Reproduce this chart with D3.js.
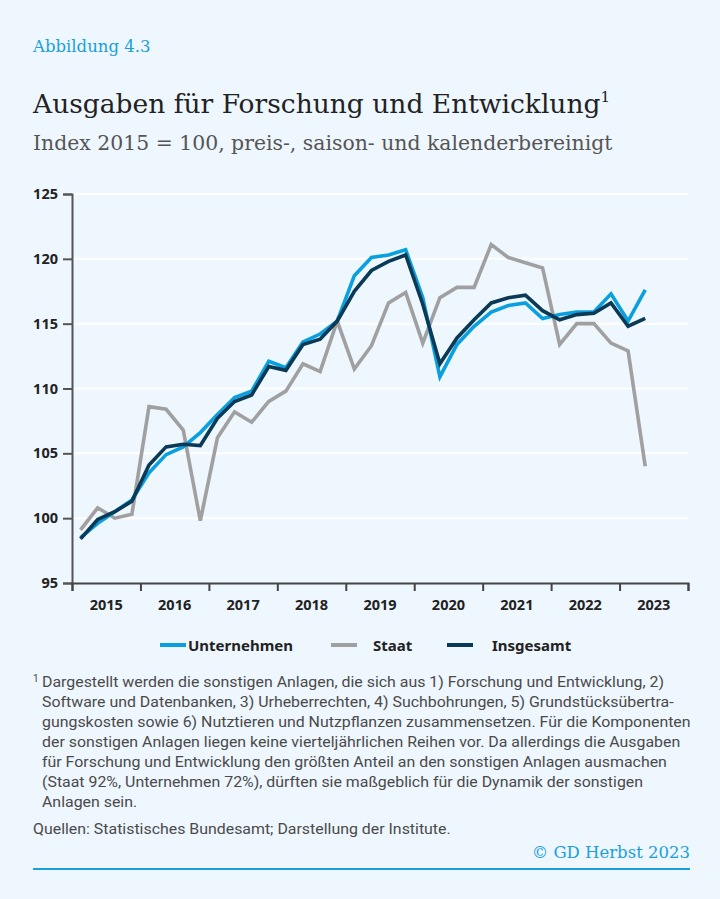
<!DOCTYPE html>
<html lang="de">
<head>
<meta charset="utf-8">
<script src="https://cdn.jsdelivr.net/npm/d3@7"></script>
<style>
  html, body { margin: 0; padding: 0; background: #eef6fe; }
  svg { display: block; }
</style>
</head>
<body>
<svg id="chart" width="720" height="899"></svg>
<script>
// Quarterly index values, 2015 Q1 – 2023 Q2 (2015 = 100)
const years = [2015, 2016, 2017, 2018, 2019, 2020, 2021, 2022, 2023];
const yTicks = [95, 100, 105, 110, 115, 120, 125];

const unternehmen = [
  98.5, 99.6, 100.5, 101.4,
  103.5, 104.9, 105.5, 106.6,
  108.0, 109.3, 109.8, 112.1,
  111.6, 113.6, 114.2, 115.2,
  118.7, 120.1, 120.3, 120.7,
  117.0, 110.9, 113.4, 114.8,
  115.9, 116.4, 116.6, 115.4,
  115.7, 115.9, 115.9, 117.3,
  115.2, 117.6
];
const staat = [
  99.1, 100.8, 100.0, 100.3,
  108.6, 108.4, 106.8, 99.8,
  106.2, 108.2, 107.4, 109.0,
  109.8, 111.9, 111.3, 115.2,
  111.5, 113.3, 116.6, 117.4,
  113.5, 117.0, 117.8, 117.8,
  121.1, 120.1, 119.7, 119.3,
  113.4, 115.0, 115.0, 113.5,
  112.9, 104.0
];
const insgesamt = [
  98.4, 99.9, 100.5, 101.3,
  104.1, 105.5, 105.7, 105.6,
  107.7, 109.0, 109.5, 111.7,
  111.4, 113.4, 113.8, 115.2,
  117.5, 119.1, 119.8, 120.3,
  116.5, 111.9, 113.9, 115.3,
  116.6, 117.0, 117.2, 116.0,
  115.3, 115.7, 115.8, 116.6,
  114.8, 115.4
];

const seriesNames = ["Unternehmen", "Staat", "Insgesamt"];
const seriesColors = ["#0aa0e0", "#a0a0a0", "#0a3a55"];

const footnoteLines = [
  "Dargestellt werden die sonstigen Anlagen, die sich aus 1) Forschung und Entwicklung, 2)",
  "Software und Datenbanken, 3) Urheberrechten, 4) Suchbohrungen, 5) Grundstücksübertra-",
  "gungskosten sowie 6) Nutztieren und Nutzpflanzen zusammensetzen. Für die Komponenten",
  "der sonstigen Anlagen liegen keine vierteljährlichen Reihen vor. Da allerdings die Ausgaben",
  "für Forschung und Entwicklung den größten Anteil an den sonstigen Anlagen ausmachen",
  "(Staat 92%, Unternehmen 72%), dürften sie maßgeblich für die Dynamik der sonstigen",
  "Anlagen sein."
];

const svg = d3.select("#chart");
const serif = "'DejaVu Serif', 'Liberation Serif', serif";
const sans = "'Noto Sans', 'Open Sans', sans-serif";
const narrow = "'Liberation Sans Narrow', 'Roboto', sans-serif";

svg.append("rect").attr("width", 720).attr("height", 899).attr("fill", "#eef6fe");

// Header
svg.append("text").attr("x", 33).attr("y", 52)
  .attr("font-family", serif).attr("font-size", 16.5).attr("font-weight", 300)
  .attr("fill", "#1a9fdc").text("Abbildung 4.3");

const title = svg.append("text").attr("x", 33).attr("y", 113)
  .attr("font-family", serif).attr("font-size", 26.5).attr("fill", "#222");
title.append("tspan").text("Ausgaben für Forschung und Entwicklung");
title.append("tspan").attr("font-size", 15).attr("dy", -11).text("1");

svg.append("text").attr("x", 33).attr("y", 150)
  .attr("font-family", serif).attr("font-size", 20.4).attr("font-weight", 300)
  .attr("fill", "#555").text("Index 2015 = 100, preis-, saison- und kalenderbereinigt");

// Scales: x in quarters since 2015 Q1
const x = d3.scaleLinear().domain([0, years.length * 4]).range([72, 688]);
const y = d3.scaleLinear().domain([95, 125]).range([583, 194]);

// Gridlines
svg.append("g").selectAll("line").data(yTicks.slice(1)).join("line")
  .attr("x1", x(0)).attr("x2", x(years.length * 4))
  .attr("y1", d => y(d)).attr("y2", d => y(d))
  .attr("stroke", "#ffffff").attr("stroke-width", 2);

// Y axis
const yAxis = svg.append("g").attr("transform", `translate(${x(0)},0)`)
  .call(d3.axisLeft(y).tickValues(yTicks).tickSize(9).tickPadding(5).tickFormat(d3.format("d")));
yAxis.select(".domain").attr("stroke", "#555").attr("stroke-width", 2);
yAxis.selectAll(".tick line").attr("stroke", "#555").attr("stroke-width", 2);
yAxis.selectAll(".tick text").attr("font-family", sans).attr("font-size", 14.5)
  .attr("font-weight", 700).attr("fill", "#222");

// X axis: ticks at year boundaries, labels centred on each year
const xAxis = svg.append("g").attr("transform", `translate(0,${y(95)})`)
  .call(d3.axisBottom(x).tickValues(d3.range(0, years.length * 4 + 1, 4)).tickSize(8).tickFormat(""));
xAxis.select(".domain").attr("stroke", "#444").attr("stroke-width", 2);
xAxis.selectAll(".tick line").attr("stroke", "#444").attr("stroke-width", 2);
svg.append("g").selectAll("text").data(years).join("text")
  .attr("x", (d, i) => x(i * 4 + 2)).attr("y", 610)
  .attr("text-anchor", "middle").attr("font-family", sans).attr("font-size", 14.5)
  .attr("font-weight", 700).attr("fill", "#222").text(d => d);

// Lines
const line = d3.line().x((d, i) => x(i + 0.5)).y(d => y(d));
const drawOrder = [[staat, 1], [unternehmen, 0], [insgesamt, 2]];
svg.append("g").selectAll("path").data(drawOrder).join("path")
  .attr("d", d => line(d[0]))
  .attr("fill", "none")
  .attr("stroke", d => seriesColors[d[1]])
  .attr("stroke-width", 3.6)
  .attr("stroke-linejoin", "miter");

// Legend
const legendX = [160, 331, 447];
const lg = svg.append("g").selectAll("g").data(seriesNames).join("g")
  .attr("transform", (d, i) => `translate(${legendX[i]},645)`);
lg.append("line").attr("x1", 0).attr("x2", 26).attr("y1", 0).attr("y2", 0)
  .attr("stroke", (d, i) => seriesColors[i]).attr("stroke-width", 4);
lg.append("text").attr("x", (d, i) => [28, 42, 45][i]).attr("y", 5.5)
  .attr("font-family", sans).attr("font-size", 15).attr("font-weight", 700)
  .attr("fill", "#222").text(d => d);

// Footnote, compressed horizontally to a narrow set
const fn = svg.append("g").attr("fill", "#4a4a4a").attr("font-family", narrow).attr("font-size", 15.5);
fn.append("text").attr("x", 33).attr("y", 682).attr("font-size", 10).text("1");
const fnText = fn.append("g");
fnText.selectAll("text").data(footnoteLines).join("text")
  .attr("x", 0).attr("y", (d, i) => 687 + i * 20).text(d => d);
const quellen = fnText.append("text").attr("x", -9 ).attr("y", 834)
  .text("Quellen: Statistisches Bundesamt; Darstellung der Institute.");
const widest = fnText.selectAll("text").filter((d, i) => i === 3).node().getComputedTextLength();
const sx = (681 - 42) / widest;
fnText.attr("transform", `translate(42,0) scale(${sx},1)`);
quellen.attr("x", -9 / sx);

// Copyright and bottom rule
svg.append("text").attr("x", 690).attr("y", 858).attr("text-anchor", "end")
  .attr("font-family", serif).attr("font-size", 16.5).attr("font-weight", 300)
  .attr("fill", "#1a9fdc").text("© GD Herbst 2023");
svg.append("line").attr("x1", 33).attr("x2", 690).attr("y1", 869).attr("y2", 869)
  .attr("stroke", "#1a9fdc").attr("stroke-width", 2);
</script>
</body>
</html>
